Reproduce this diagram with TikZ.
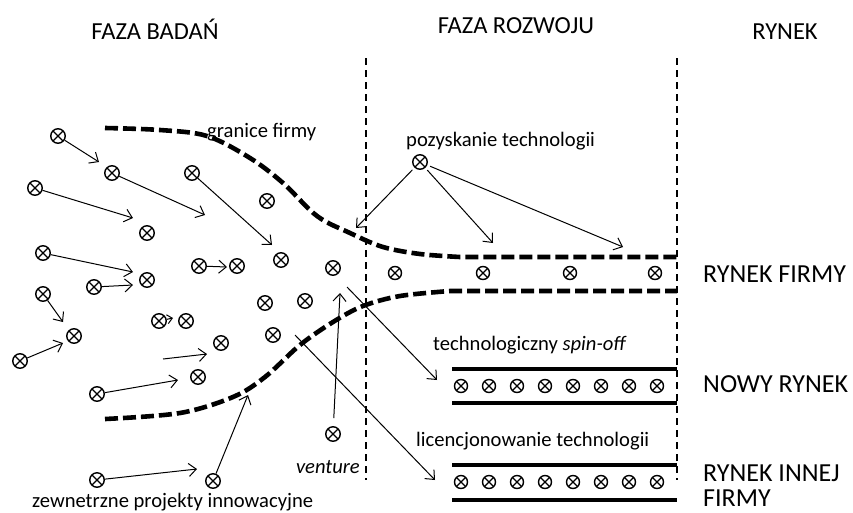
\documentclass[tikz,border=0pt]{standalone}
\usepackage{fontspec}
\setmainfont{Carlito}
\usetikzlibrary{arrows.meta}
\begin{document}
\begin{tikzpicture}[x=1pt,y=-1pt,
  mk/.style={circle,draw,line width=1.4pt,minimum size=14.5pt,inner sep=0pt,
    path picture={\draw[line width=1.2pt]
      (path picture bounding box.north west) -- (path picture bounding box.south east)
      (path picture bounding box.south west) -- (path picture bounding box.north east);}},
  smk/.style={mk,minimum size=13pt},
  arr/.style={line width=1pt,-{Straight Barb[length=7.5pt,width=13pt]}},
  bound/.style={line width=4.6pt,dash pattern=on 13pt off 5pt},
  phase/.style={line width=1.7pt,dash pattern=on 7pt off 5pt},
  bar/.style={line width=4.4pt},
  lbl/.style={font=\fontsize{20.6}{24}\selectfont,anchor=base west,inner sep=0pt},
  big/.style={font=\fontsize{26}{25}\selectfont,anchor=base west,inner sep=0pt},
  head/.style={font=\fontsize{24.5}{28}\selectfont,anchor=base,inner sep=0pt}]

\useasboundingbox (0,0) rectangle (853,512);

% phase headers
\node[head] (hb) at (155,39) {FAZA BADAŃ};
\node[head] (hr) at (516,33) {FAZA ROZWOJU};
\node[head] (hm) at (785,39) {RYNEK};

% phase separators
\coordinate (v1t) at (366,58); \coordinate (v1b) at (366,480);
\coordinate (v2t) at (677,58); \coordinate (v2b) at (677,480);
\draw[phase] (v1t) -- (v1b);
\draw[phase] (v2t) -- (v2b);

% company boundary
\draw[bound] plot[smooth,tension=0.55] coordinates
  {(105,128) (160,130) (207,136) (250,158) (283,183) (317,216) (350,233) (383,247) (420,254) (460,257)}
  -- (677,257);
\draw[bound] plot[smooth,tension=0.55] coordinates
  {(105,419) (180,413) (233,397) (265,377) (300,345) (333,322) (363,306) (400,296) (450,291)}
  -- (677,291);

% market bars
\draw[bar] (452,369) -- (677,369);
\draw[bar] (452,403) -- (677,403);
\draw[bar] (452,465) -- (677,465);
\draw[bar] (452,500) -- (677,500);

% research projects
\node[mk] (a1) at (58,136) {};
\node[mk] (a2) at (112,173) {};
\node[mk] (a3) at (35,188) {};
\node[mk] (a4) at (192,173) {};
\node[mk] (a5) at (267,201) {};
\node[mk] (a6) at (147,233) {};
\node[mk] (a7) at (43,253) {};
\node[mk] (a8) at (199,266) {};
\node[mk] (a9) at (237,266) {};
\node[mk] (a10) at (281,260) {};
\node[mk] (a11) at (147,280) {};
\node[mk] (a12) at (94,287) {};
\node[mk] (a13) at (43,294) {};
\node[mk] (a14) at (333,268) {};
\node[mk] (a15) at (74,336) {};
\node[mk] (a16) at (20,361) {};
\node[mk] (a17) at (159,321) {};
\node[mk] (a18) at (186,321) {};
\node[mk] (a19) at (265,303) {};
\node[mk] (a20) at (305,301) {};
\node[mk] (a21) at (273,335) {};
\node[mk] (a22) at (221,343) {};
\node[mk] (a23) at (198,377) {};
\node[mk] (a24) at (97,394) {};
\node[mk] (a25) at (333,434) {};
\node[mk] (a26) at (97,480) {};
\node[mk] (a27) at (213,481) {};
\node[mk] (p0) at (420,162) {};

% products on the markets
\foreach \i/\x in {1/395,2/483,3/570,4/655}
  \node[smk] (c\i) at (\x,273) {};
\foreach \i in {1,...,8} {
  \node[smk] (n\i) at ({433+28*\i},386) {};
  \node[smk] (l\i) at ({433+28*\i},482) {};
}

% arrow ends
\coordinate (t1) at (99,162);
\coordinate (t2) at (205,215);
\coordinate (t3) at (133,218);
\coordinate (t4) at (272,245);
\coordinate (t7) at (133,272);
\coordinate (t12) at (133,285);
\coordinate (t8) at (227,267);
\coordinate (t17) at (173,318);
\coordinate (t13) at (63,322);
\coordinate (t16) at (63,343);
\coordinate (s22) at (163,359);
\coordinate (t22) at (207,354);
\coordinate (t24) at (178,380);
\coordinate (t26) at (197,469);
\coordinate (t27) at (248,395);
\coordinate (t25) at (340,293);
\coordinate (s14) at (347,287);
\coordinate (t14) at (437,380);
\coordinate (s21) at (295,335);
\coordinate (t21) at (435,480);
\coordinate (q1) at (356,228);
\coordinate (q2) at (493,243);
\coordinate (q3) at (623,247);

\draw[arr] (a1) -- (t1);
\draw[arr] (a2) -- (t2);
\draw[arr] (a3) -- (t3);
\draw[arr] (a4) -- (t4);
\draw[arr] (a7) -- (t7);
\draw[arr] (a12) -- (t12);
\draw[arr] (a8) -- (t8);
\draw[arr,-{Straight Barb[length=5pt,width=9pt]}] (a17) -- (t17);
\draw[arr] (a13) -- (t13);
\draw[arr] (a16) -- (t16);
\draw[arr] (s22) -- (t22);
\draw[arr] (a24) -- (t24);
\draw[arr] (a26) -- (t26);
\draw[arr] (a27) -- (t27);
\draw[arr,shorten <=8pt] (a25) -- (t25);
\draw[arr] (s14) -- (t14);
\draw[arr] (s21) -- (t21);
\draw[arr,shorten <=3pt] (p0) -- (q1);
\draw[arr,shorten <=3pt] (p0) -- (q2);
\draw[arr,shorten <=3pt] (p0) -- (q3);

% labels
\node[lbl] (gf) at (207,137) {granice firmy};
\node[lbl] (pt) at (406,146) {pozyskanie technologii};
\node[lbl] (so) at (433,350) {technologiczny \textit{spin-off}};
\node[lbl] (lt) at (416,446) {licencjonowanie technologii};
\node[lbl,anchor=base east] (vt) at (360,473) {\textit{venture}};
\node[lbl] (zp) at (32,507) {zewnetrzne projekty innowacyjne};

\node[big] (rf) at (703,282) {RYNEK FIRMY};
\node[big] (nr) at (703,392) {NOWY RYNEK};
\node[big,anchor=north west,align=left] (ri) at (703,464.3) {RYNEK INNEJ\\FIRMY};
\end{tikzpicture}
\end{document}
